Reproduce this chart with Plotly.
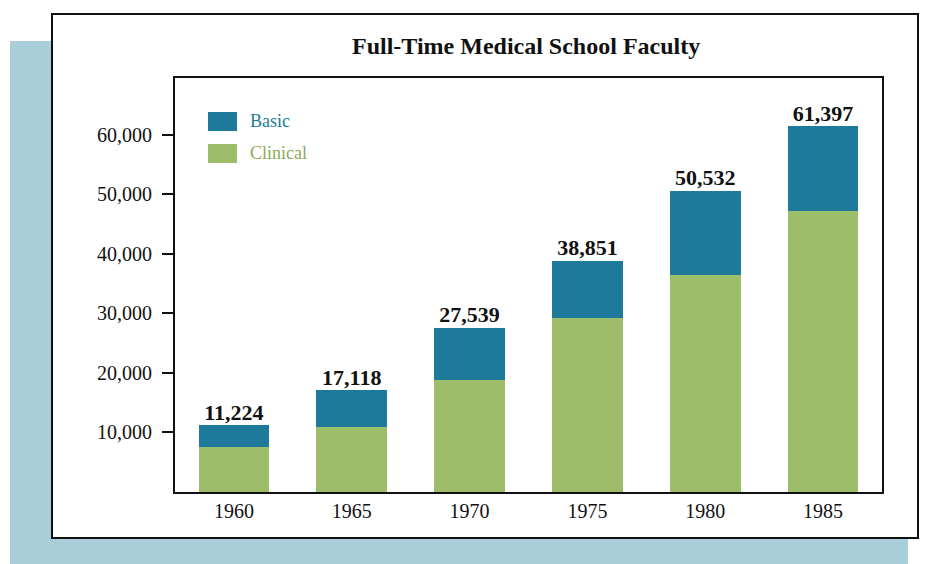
import plotly.graph_objects as go

# Data
years = ["1960", "1965", "1970", "1975", "1980", "1985"]
totals = [11224, 17118, 27539, 38851, 50532, 61397]
clinical = [7480, 10850, 18810, 29260, 36480, 47200]
basic = [t - c for t, c in zip(totals, clinical)]
y_ticks = [10000, 20000, 30000, 40000, 50000, 60000]

BLUE = "#1e7a9b"
GREEN = "#9ebd6b"
PANEL = "#a9cdd9"
SERIF = "Liberation Serif, Times New Roman, serif"

OFF = 8  # page body margin, so layout below is in window pixels minus this
W, H = 931 - OFF, 564 - OFF
L, R, T, B = 175 - OFF, 882 - OFF, 78 - OFF, 492 - OFF  # plot area


def px(x):
    return (x - OFF - L) / (R - L)


def py(y):
    return (B - (y - OFF)) / (B - T)


fig = go.Figure()

fig.add_trace(go.Bar(x=years, y=clinical, name="Clinical", marker=dict(color=GREEN, line=dict(width=0))))
fig.add_trace(go.Bar(x=years, y=basic, name="Basic", marker=dict(color=BLUE, line=dict(width=0))))

# total labels above the bars
fig.add_trace(go.Scatter(
    x=years, y=totals, mode="text",
    text=[f"{t:,}" for t in totals],
    textposition="top center",
    textfont=dict(family=SERIF, size=22, color="#111111"),
    texttemplate="<b>%{text}</b>",
    hoverinfo="skip",
))

shapes = [
    # light blue page panel behind the chart
    dict(type="rect", xref="paper", yref="paper", layer="below",
         x0=px(10), x1=px(908), y0=py(41), y1=py(580),
         fillcolor=PANEL, line=dict(width=0)),
    # white chart card with black border
    dict(type="rect", xref="paper", yref="paper", layer="below",
         x0=px(52), x1=px(918), y0=py(14), y1=py(538),
         fillcolor="white", line=dict(color="#111111", width=2)),
    # legend swatches
    dict(type="rect", xref="paper", yref="paper",
         x0=px(208), x1=px(237), y0=py(112), y1=py(131),
         fillcolor=BLUE, line=dict(width=0)),
    dict(type="rect", xref="paper", yref="paper",
         x0=px(208), x1=px(237), y0=py(144), y1=py(163),
         fillcolor=GREEN, line=dict(width=0)),
]

annotations = [
    dict(text="Basic", xref="paper", yref="paper", x=px(248), y=py(121),
         xanchor="left", yanchor="middle", showarrow=False,
         font=dict(family=SERIF, size=18, color=BLUE)),
    dict(text="Clinical", xref="paper", yref="paper", x=px(248), y=py(153),
         xanchor="left", yanchor="middle", showarrow=False,
         font=dict(family=SERIF, size=18, color="#8aab58")),
    dict(text="<b>Full-Time Medical School Faculty</b>", xref="paper", yref="paper",
         x=px(526), y=py(46), xanchor="center", yanchor="middle", showarrow=False,
         font=dict(family=SERIF, size=24, color="#111111")),
]

fig.update_layout(
    width=W, height=H,
    margin=dict(l=L, r=W - R, t=T, b=H - B),
    paper_bgcolor="white",
    plot_bgcolor="rgba(0,0,0,0)",
    barmode="stack",
    bargap=0.4,
    showlegend=False,
    shapes=shapes,
    annotations=annotations,
    xaxis=dict(
        type="category", showgrid=False, ticks="", showline=True, linecolor="#111111",
        linewidth=2, mirror=True, range=[-0.5, 5.5],
        tickfont=dict(family=SERIF, size=20, color="#111111"),
        ticklabelstandoff=0,
    ),
    yaxis=dict(
        range=[0, 69500], showgrid=False, zeroline=False,
        tickvals=y_ticks, ticktext=[f"{v:,}" for v in y_ticks],
        ticks="outside", ticklen=11, tickwidth=2, tickcolor="#111111",
        showline=True, linecolor="#111111", linewidth=2, mirror=True,
        tickfont=dict(family=SERIF, size=20, color="#111111"),
        ticklabelstandoff=6,
    ),
)

fig.write_html("out.html")
